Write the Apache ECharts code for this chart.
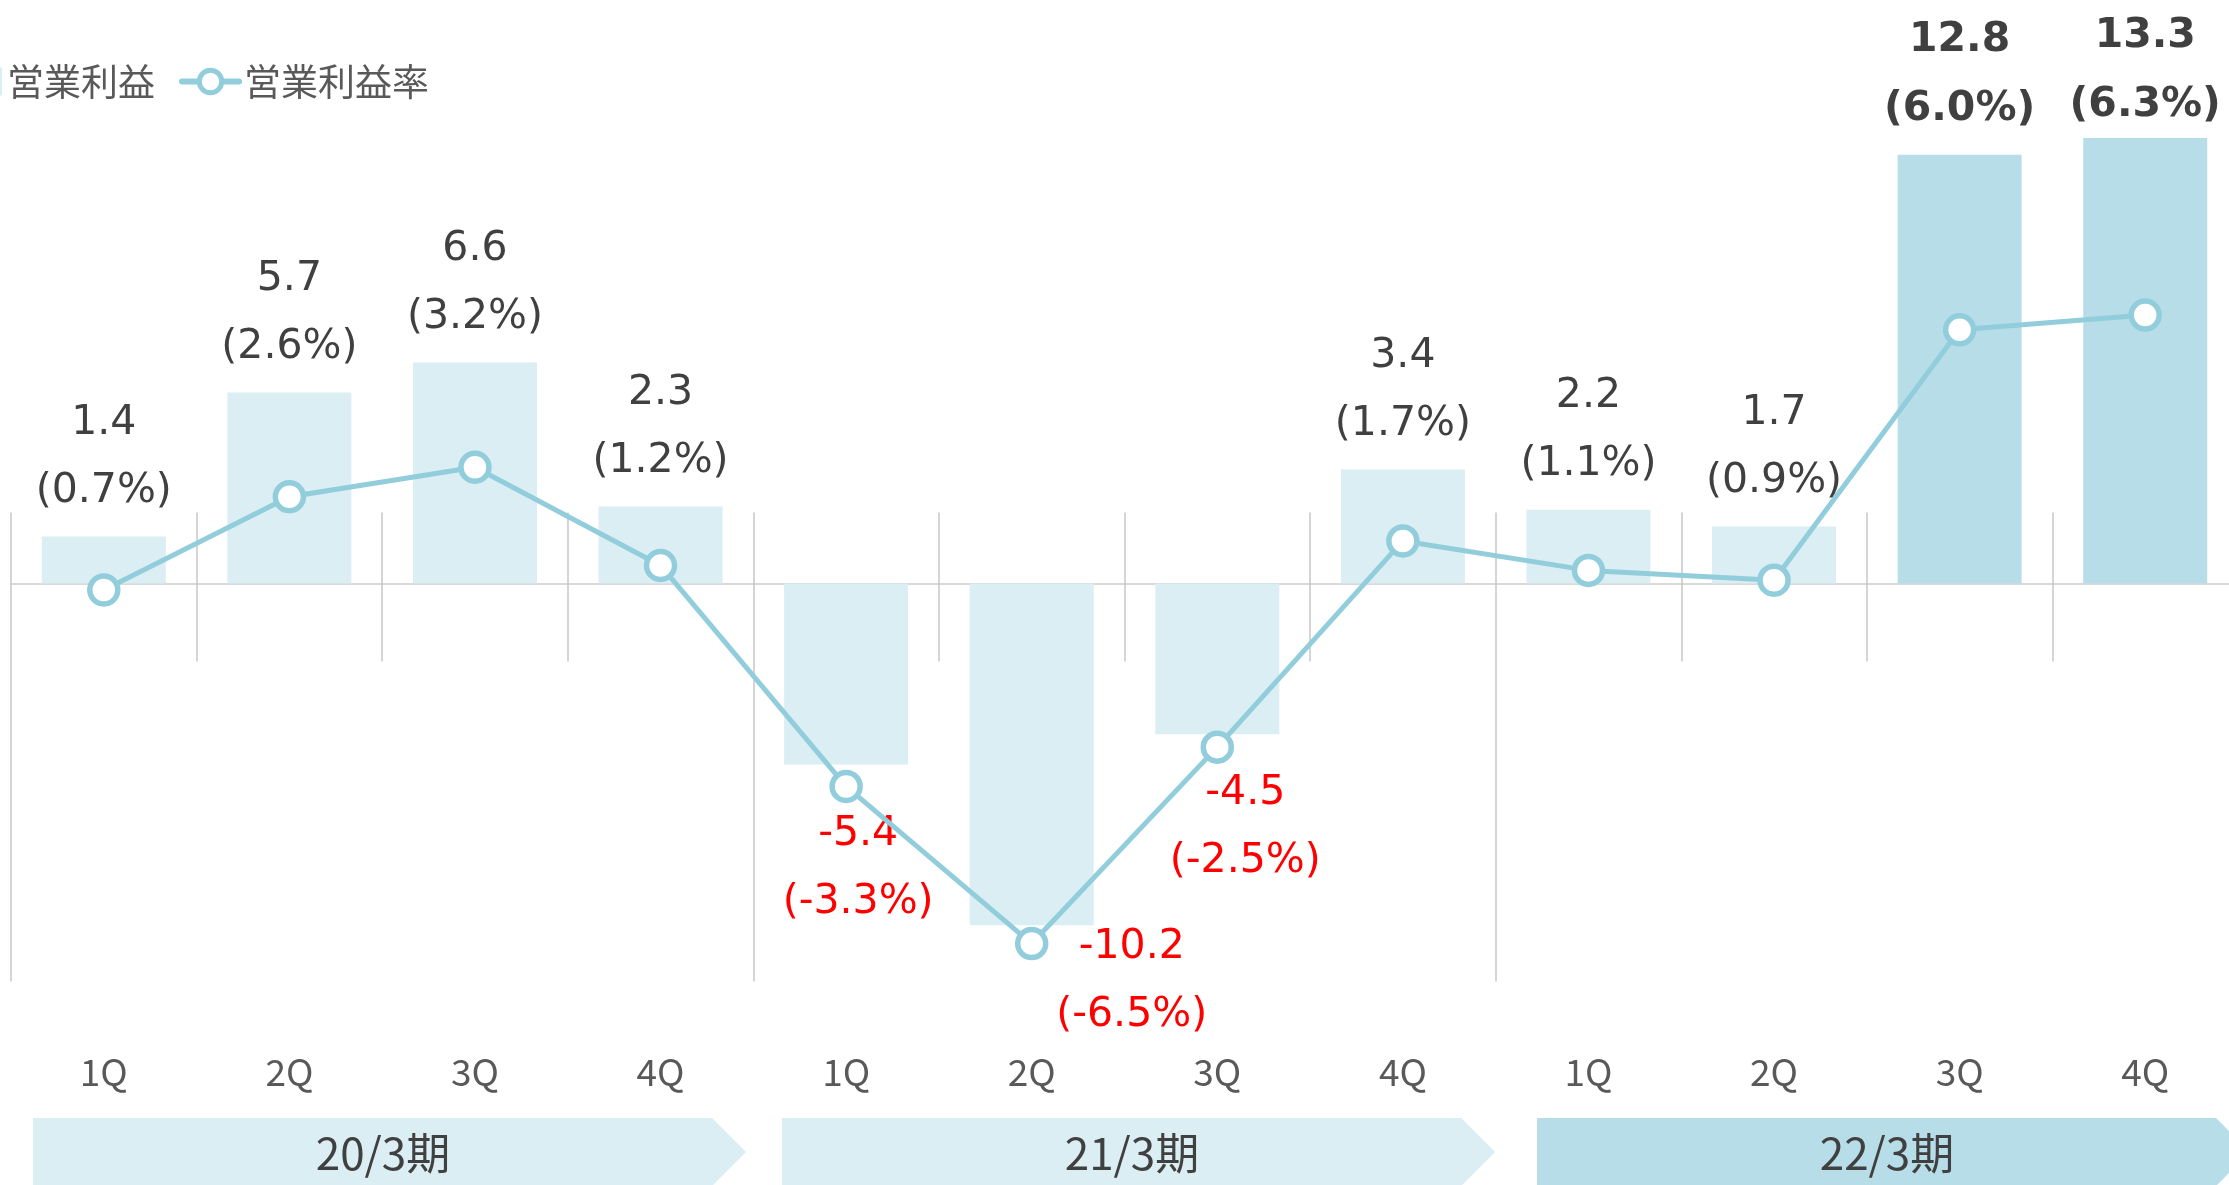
<!DOCTYPE html>
<html><head><meta charset="utf-8">
<script src="https://cdn.jsdelivr.net/npm/echarts@6/dist/echarts.min.js"></script>
<style>html,body{margin:0;padding:0;background:#fff;overflow:hidden}#c{width:2229px;height:1185px}</style>
</head><body><div id="c"></div>
<script>
// ---- data ----
const quarters = ['1Q','2Q','3Q','4Q','1Q','2Q','3Q','4Q','1Q','2Q','3Q','4Q'];
const periods = ['20/3期','21/3期','22/3期'];
const profit = [1.4, 5.7, 6.6, 2.3, -5.4, -10.2, -4.5, 3.4, 2.2, 1.7, 12.8, 13.3];
const margin = [0.7, 2.6, 3.2, 1.2, -3.3, -6.5, -2.5, 1.7, 1.1, 0.9, 6.0, 6.3];
const seriesNames = ['営業利益', '営業利益率'];

// ---- styles / layout ----
const LIGHT = '#DAEEF3', DARK = '#B7DEE8', LINE = '#92CDDC';
const TEXT = '#404040', SUB = '#595959', RED = '#FF0000';
const highlightIdx = [10, 11];
const negOffsets = {4: [12, 36], 5: [100, -12], 6: [28, 25]};
const posOffsets = {11: [0, 13]};
const gridTop = 100, gridBottomY = 1000;
const barZeroY = 583.5, barPx = 33.5, lineZeroY = 624.4, linePx = 49.1;
const bannerLeft = [33, 782, 1537];

const chart = echarts.init(document.getElementById('c'), null, {renderer: 'canvas'});
const numFont = 'DejaVu Sans';
const jpFont = '"Noto Sans CJK JP", "Noto Sans", sans-serif';

const rich = {
  n: {fontSize: 41, lineHeight: 68, color: TEXT, fontFamily: numFont},
  b: {fontSize: 41, lineHeight: 69, color: TEXT, fontFamily: numFont, fontWeight: 'bold'},
  r: {fontSize: 41, lineHeight: 68, color: RED, fontFamily: numFont}
};

const barData = profit.map((v, i) => {
  const hi = highlightIdx.includes(i);
  const neg = v < 0;
  const key = neg ? 'r' : (hi ? 'b' : 'n');
  return {
    value: v,
    itemStyle: {color: hi ? DARK : LIGHT},
    label: {
      show: true,
      position: neg ? 'bottom' : 'top',
      distance: neg ? 0 : 11,
      offset: neg ? negOffsets[i] : (posOffsets[i] || [0, 0]),
      align: 'center',
      rich: rich,
      formatter: '{' + key + '|' + v.toFixed(1) + '}\n{' + key + '|(' + margin[i].toFixed(1) + '%)}'
    }
  };
});

const gridH = gridBottomY - gridTop;
const barMax = (barZeroY - gridTop) / barPx, barMin = -(gridBottomY - barZeroY) / barPx;
const lineMax = (lineZeroY - gridTop) / linePx, lineMin = -(gridBottomY - lineZeroY) / linePx;

const tickColor = '#C8C8C8';
const hiddenLine = {show: true, onZero: true, onZeroAxisIndex: 0, lineStyle: {opacity: 0}};

const option = {
  animation: false,
  backgroundColor: '#fff',
  legend: {
    left: -60, top: 58, itemWidth: 57, itemHeight: 28, itemGap: 24,
    textStyle: {fontSize: 37, color: SUB, fontFamily: jpFont},
    lineStyle: {width: 6, cap: 'round'},
    data: [
      {name: seriesNames[0], icon: 'rect', itemStyle: {color: LIGHT}},
      {name: seriesNames[1], itemStyle: {color: '#FFFFFF', borderColor: LINE, borderWidth: 5}}
    ]
  },
  grid: {left: 11, top: gridTop, width: 2227, height: gridH, containLabel: false, outerBoundsMode: 'none'},
  xAxis: [
    { // zero line + short ticks downward
      type: 'category', data: quarters, position: 'bottom',
      axisLine: {show: true, onZero: true, onZeroAxisIndex: 0, lineStyle: {color: '#D9D9D9', width: 2}},
      axisTick: {show: true, interval: 0, length: 78, inside: false, lineStyle: {color: tickColor, width: 1.5}},
      axisLabel: {show: false}, splitLine: {show: false}
    },
    { // short ticks upward
      type: 'category', data: quarters, position: 'top',
      axisLine: hiddenLine,
      axisTick: {show: true, interval: 0, length: 71, inside: false, lineStyle: {color: tickColor, width: 1.5}},
      axisLabel: {show: false}, splitLine: {show: false}
    },
    { // quarter labels at bottom
      type: 'category', data: quarters, position: 'bottom',
      axisLine: {show: false, onZero: false}, axisTick: {show: false},
      axisLabel: {show: true, interval: 0, margin: 53, fontSize: 37, color: SUB, fontFamily: jpFont},
      splitLine: {show: false}
    },
    { // long period-boundary ticks downward
      type: 'category', data: quarters, position: 'bottom',
      axisLine: hiddenLine,
      axisTick: {show: true, interval: (idx) => idx % 4 === 0 && idx < quarters.length, length: 398, inside: false, lineStyle: {color: tickColor, width: 1.5}},
      axisLabel: {show: false}, splitLine: {show: false}
    }
  ],
  yAxis: [
    {type: 'value', min: barMin, max: barMax, show: false, splitLine: {show: false}},
    {type: 'value', min: lineMin, max: lineMax, show: false, splitLine: {show: false}}
  ],
  series: [
    {
      name: seriesNames[0], type: 'bar', xAxisIndex: 0, yAxisIndex: 0,
      barWidth: 124, data: barData, z: 2,
      itemStyle: {color: LIGHT}
    },
    {
      name: seriesNames[1], type: 'line', xAxisIndex: 0, yAxisIndex: 1,
      data: margin, symbol: 'circle', symbolSize: 28, z: 5,
      lineStyle: {color: LINE, width: 5},
      itemStyle: {color: '#FFFFFF', borderColor: LINE, borderWidth: 5.5},
      label: {show: false}
    }
  ],
  graphic: periods.map((p, i) => {
    const L = bannerLeft[i], R = L + 679, T = 1118, M = 1152, B = 1186;
    return {
      type: 'group', silent: true,
      children: [
        {type: 'polygon', shape: {points: [[L, T], [R, T], [R + 34, M], [R, B], [L, B]]},
         style: {fill: i === 2 ? DARK : LIGHT}},
        {type: 'text', x: L + 350, y: 1153,
         style: {text: p, fill: TEXT, font: '44px ' + jpFont, textAlign: 'center', textVerticalAlign: 'middle'}}
      ]
    };
  })
};
chart.setOption(option);
</script>
</body></html>
